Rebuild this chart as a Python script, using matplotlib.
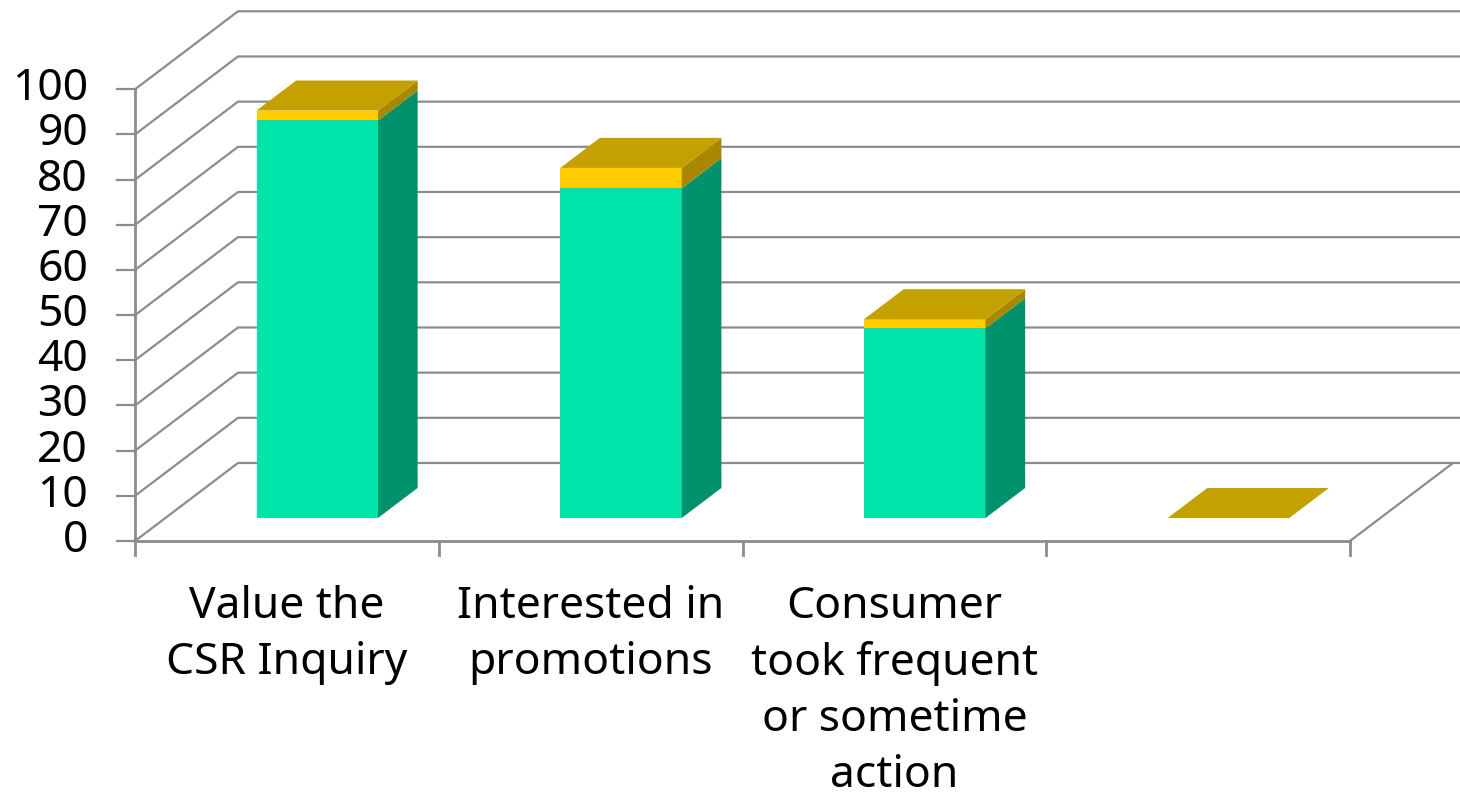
import matplotlib
matplotlib.use("Agg")
import matplotlib.pyplot as plt
from matplotlib.patches import Polygon

categories = [
    "Value the\nCSR Inquiry",
    "Interested in\npromotions",
    "Consumer\ntook frequent\nor sometime\naction",
    "",
]
green_values = [88, 73, 42, 0]
yellow_values = [2.2, 4.5, 2, 0]
y_ticks = [0, 10, 20, 30, 40, 50, 60, 70, 80, 90, 100]

# layout of the oblique 3D box (pixel based)
W, H = 1460, 799
X0, CAT_PX = 135, 303.75
Y0, UNIT_PX = 541, 4.517
DU = 103 / CAT_PX
DV = 78 / UNIT_PX
BAR_W = 0.4
D_FRONT, D_BACK = 0.295, 0.68

GREEN, GREEN_SIDE = "#00E4A9", "#00926C"
YELLOW, YELLOW_SIDE, YELLOW_TOP = "#FFCC00", "#A88800", "#C4A000"
GRID = "#8C8C8C"


def proj(u, v, d):
    return (u + d * DU, v + d * DV)


fig = plt.figure(figsize=(W / 100, H / 100), dpi=100)
ax = fig.add_axes([0, 0, 1, 1])
ax.set_xlim(-X0 / CAT_PX, (W - X0) / CAT_PX)
ax.set_ylim((Y0 - H) / UNIT_PX, Y0 / UNIT_PX)
ax.axis("off")

n = len(categories)
font = "Noto Sans"

# walls and gridlines
for t in y_ticks:
    a = proj(0, t, 0)
    b = proj(0, t, 1)
    c = (ax.get_xlim()[1], b[1])
    ax.plot([a[0], b[0], c[0]], [a[1], b[1], c[1]], color=GRID, lw=1.6, zorder=1)
    ax.plot([-18 / CAT_PX, 0], [t, t], color=GRID, lw=1.6, zorder=1)
    ax.text(-47 / CAT_PX, t, str(t), ha="right", va="center",
            fontsize=32, family=font, color="black")

# front axis and floor
ax.plot([0, 0], [-14 / UNIT_PX, y_ticks[-1]], color=GRID, lw=2, zorder=1)
ax.plot([0, n], [0, 0], color=GRID, lw=2, zorder=1)
r0, r1 = proj(n, 0, 0), proj(n, 0, 1)
ax.plot([r0[0], r1[0]], [r0[1], r1[1]], color=GRID, lw=1.6, zorder=1)
for i in range(1, n + 1):
    ax.plot([i, i], [0, -14 / UNIT_PX], color=GRID, lw=2, zorder=1)

# bars
for i in range(n):
    ul = i + 0.5 - BAR_W / 2
    ur = i + 0.5 + BAR_W / 2
    segs = [(0, green_values[i], GREEN, GREEN_SIDE),
            (green_values[i], green_values[i] + yellow_values[i], YELLOW, YELLOW_SIDE)]
    for lo, hi, fc, sc in segs:
        if hi - lo <= 0:
            continue
        front = [proj(ul, lo, D_FRONT), proj(ur, lo, D_FRONT),
                 proj(ur, hi, D_FRONT), proj(ul, hi, D_FRONT)]
        side = [proj(ur, lo, D_FRONT), proj(ur, lo, D_BACK),
                proj(ur, hi, D_BACK), proj(ur, hi, D_FRONT)]
        ax.add_patch(Polygon(front, closed=True, fc=fc, ec="none", zorder=3))
        ax.add_patch(Polygon(side, closed=True, fc=sc, ec="none", zorder=3))
    top_v = green_values[i] + yellow_values[i]
    top = [proj(ul, top_v, D_FRONT), proj(ur, top_v, D_FRONT),
           proj(ur, top_v, D_BACK), proj(ul, top_v, D_BACK)]
    ax.add_patch(Polygon(top, closed=True, fc=YELLOW_TOP, ec="none", zorder=4))

    ax.text(i + 0.5, -44 / UNIT_PX, categories[i], ha="center", va="top",
            fontsize=32, family=font, color="black", linespacing=1.36)

fig.savefig("out.png", dpi=100)
